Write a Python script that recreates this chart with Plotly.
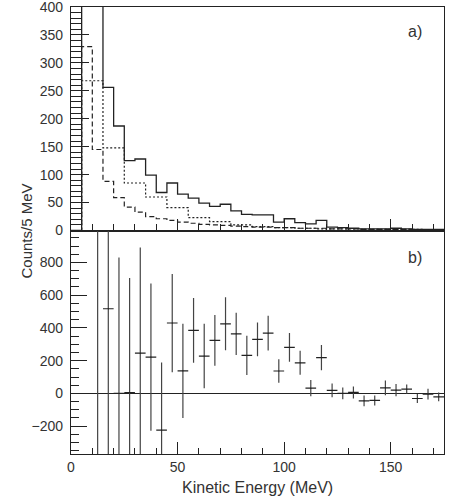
import plotly.graph_objects as go

# bin edges (5 MeV bins) for the top histograms
bin_lo = list(range(0, 175, 5))

# solid histogram, counts per 5 MeV (first bins run off the top)
solid_counts = [0, 600, 600, 256, 187, 125, 128, 99, 68, 85,
                65, 58, 49, 43, 47, 35, 29, 28, 28, 15,
                21, 14, 12, 18, 6, 5, 4, 3, 3, 3,
                4, 3, 2, 2, 2]

# dashed histogram
dashed_counts = [0, 329, 145, 88, 59, 42, 33, 25, 21, 18,
                 15, 13, 11, 10, 9, 8, 7, 6, 6, 5,
                 5, 4, 4, 4, 3, 3, 3, 2, 2, 2,
                 2, 2, 1, 1, 1]

# dotted histogram, 10 MeV wide bins starting at 5 MeV
dotted_lo = [0, 5, 15, 25, 35, 45, 55, 65, 75, 85, 95, 105, 115, 125, 135, 145, 155, 165]
dotted_counts = [0, 268, 148, 85, 60, 41, 23, 16, 10, 7, 5, 4, 3, 3, 2, 2, 2, 1]

# lower panel: subtracted spectrum with errors
pts_x = [12.5, 17.5, 22.5, 27.5, 32.5, 37.5, 42.5, 47.5, 52.5, 57.5,
         62.5, 67.5, 72.5, 77.5, 82.5, 87.5, 92.5, 97.5, 102.5, 107.5,
         112.5, 117.5, 122.5, 127.5, 132.5, 137.5, 142.5, 147.5, 152.5, 157.5,
         162.5, 167.5, 172.5]
pts_y = [1100, 517, 0, 5, 246, 222, -224, 430, 138, 385,
         228, 324, 425, 364, 232, 330, 368, 137, 281, 187,
         32, 218, 18, 0, 6, -45, -43, 34, 20, 26,
         -31, -4, -21]
pts_err = [1600, 950, 830, 700, 645, 450, 413, 300, 288, 198,
           197, 155, 162, 129, 120, 103, 106, 72, 88, 73,
           50, 77, 42, 36, 37, 33, 31, 45, 37, 28,
           28, 33, 27]

ink = '#222222'
text_col = '#333333'
font_name = 'Liberation Sans, Arial, sans-serif'


def step(lo, vals, width):
    xs = list(lo) + [lo[-1] + width]
    ys = list(vals) + [vals[-1]]
    return xs, ys


fig = go.Figure()

x, y = step(bin_lo, solid_counts, 5)
fig.add_trace(go.Scatter(x=x, y=y, mode='lines', line_shape='hv',
                         line=dict(color=ink, width=1.3), xaxis='x', yaxis='y'))
x, y = step(dotted_lo, dotted_counts, 10)
fig.add_trace(go.Scatter(x=x, y=y, mode='lines', line_shape='hv',
                         line=dict(color=ink, width=1.2, dash='2px,2px'), xaxis='x', yaxis='y'))
x, y = step(bin_lo, dashed_counts, 5)
fig.add_trace(go.Scatter(x=x, y=y, mode='lines', line_shape='hv',
                         line=dict(color=ink, width=1.2, dash='5px,3px'), xaxis='x', yaxis='y'))

fig.add_trace(go.Scatter(
    x=pts_x, y=pts_y, mode='markers',
    marker=dict(size=1, color=ink),
    error_y=dict(type='data', array=pts_err, width=0, thickness=1.2, color='#444444'),
    error_x=dict(type='constant', value=2.5, width=0, thickness=1.2, color=ink),
    xaxis='x2', yaxis='y2'))

axis_common = dict(showline=True, linecolor=ink, linewidth=1.2, mirror=True,
                   ticks='inside', tickcolor=ink, showgrid=False, zeroline=False,
                   automargin=False, ticklabeloverflow='allow',
                   tickfont=dict(family=font_name, size=14, color=text_col))

fig.update_layout(
    width=469, height=500,
    margin=dict(l=71, r=25, t=7, b=46),
    plot_bgcolor='white', paper_bgcolor='white',
    showlegend=False,
    xaxis=dict(axis_common, domain=[0, 1], anchor='y', range=[0, 175],
               dtick=50, ticklen=11, showticklabels=False,
               minor=dict(dtick=10, ticks='inside', ticklen=6, tickcolor=ink)),
    yaxis=dict(axis_common, domain=[0.5, 1], anchor='x', range=[0, 400],
               tickvals=[0, 50, 100, 150, 200, 250, 300, 350, 400],
               ticklen=18, ticklabelstandoff=4,
               minor=dict(dtick=10, ticks='inside', ticklen=10, tickcolor=ink)),
    xaxis2=dict(axis_common, domain=[0, 1], anchor='y2', range=[0, 175],
                dtick=50, ticklen=12,
                minor=dict(dtick=10, ticks='inside', ticklen=6, tickcolor=ink)),
    yaxis2=dict(axis_common, domain=[0, 0.5], anchor='x2', range=[-370, 995],
                tickvals=[-200, 0, 200, 400, 600, 800], ticklen=16, ticklabelstandoff=4,
                zeroline=True, zerolinecolor=ink, zerolinewidth=1.2,
                minor=dict(dtick=50, ticks='inside', ticklen=8, tickcolor=ink)),
    annotations=[
        dict(text='a)', x=161.5, y=357, xref='x', yref='y', showarrow=False,
             font=dict(family=font_name, size=16, color=text_col)),
        dict(text='b)', x=161.5, y=830, xref='x2', yref='y2', showarrow=False,
             font=dict(family=font_name, size=16, color=text_col)),
        dict(text='Counts/5 MeV', textangle=-90, x=-0.118, y=0.5, xref='paper', yref='paper',
             xanchor='center', yanchor='middle', showarrow=False,
             font=dict(family=font_name, size=15, color=text_col)),
        dict(text='Kinetic Energy (MeV)', x=0.5, y=-0.076, xref='paper', yref='paper',
             xanchor='center', yanchor='middle', showarrow=False,
             font=dict(family=font_name, size=16, color=text_col)),
    ],
)

# drop the default page margin so the figure sits at the window's corner
fig.write_html("out.html", config={'displayModeBar': False},
               post_script="document.body.style.margin='0';")
